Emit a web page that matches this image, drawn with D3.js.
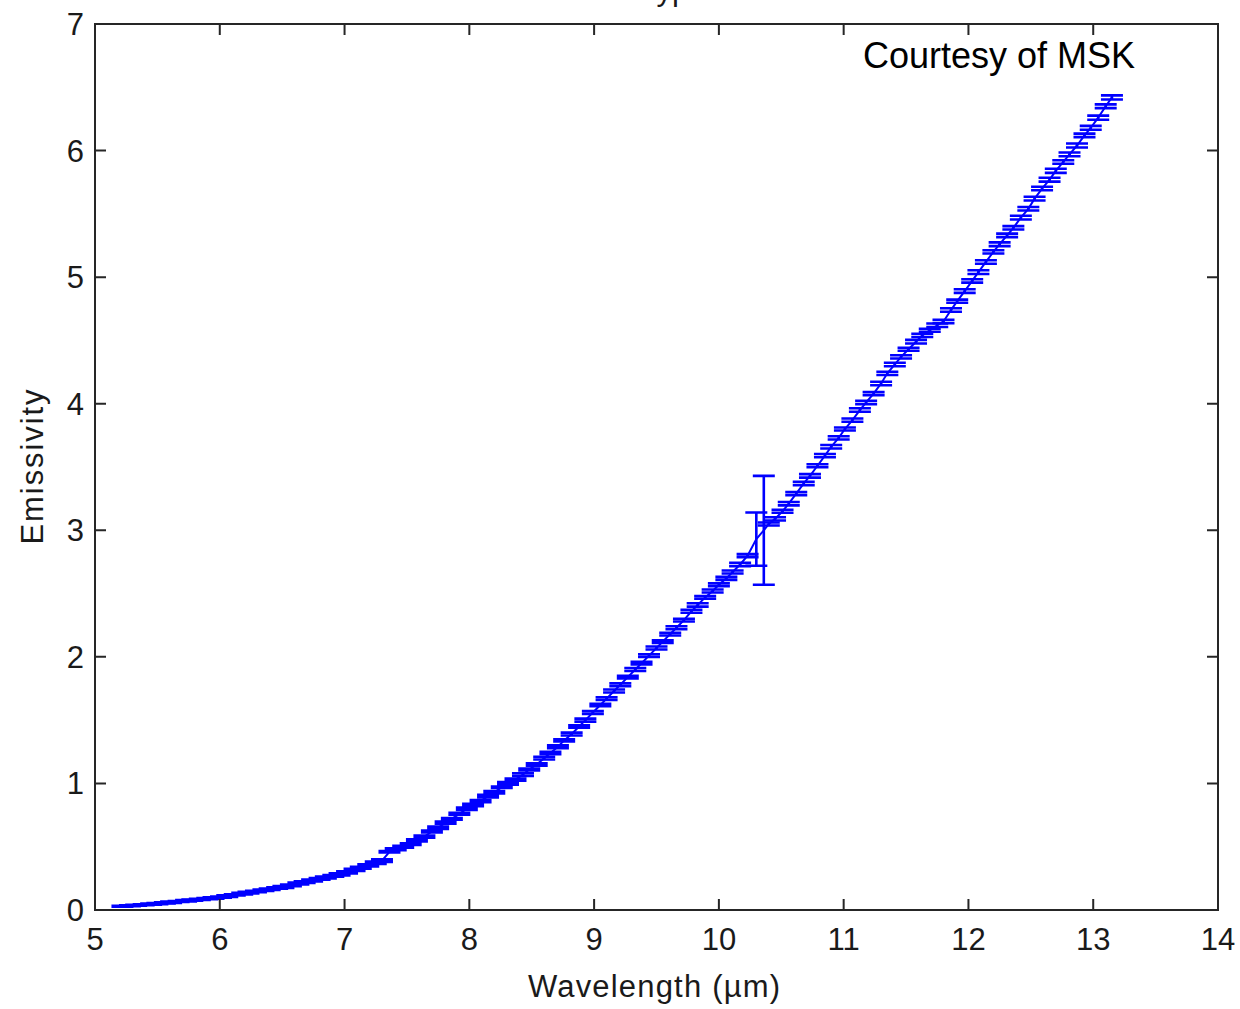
<!DOCTYPE html>
<meta charset="utf-8">
<style>
body { margin: 0; background: #fff; }
text { font-family: "Liberation Sans", Arial, sans-serif; fill: #1a1a1a; }
.frame { fill: none; stroke: #262626; stroke-width: 2; }
.tick { stroke: #262626; stroke-width: 2; }
.bar { stroke: #0000ff; stroke-width: 2.6; fill: none; }
.trace { stroke: #0000ff; stroke-width: 2; fill: none; }
</style>
<body>
<script src="https://cdn.jsdelivr.net/npm/d3@7"></script>
<script>

var width = 1240,
    height = 1009;

// wavelength (um) of each measurement
var wavelength = [
  5.22, 5.28, 5.33, 5.39, 5.45, 5.50, 5.56, 5.61, 5.67, 5.73,
  5.78, 5.84, 5.90, 5.95, 6.01, 6.06, 6.12, 6.18, 6.23, 6.29,
  6.35, 6.40, 6.46, 6.51, 6.57, 6.63, 6.68, 6.74, 6.80, 6.85,
  6.91, 6.96, 7.02, 7.08, 7.13, 7.19, 7.25, 7.30, 7.36, 7.41,
  7.47, 7.53, 7.58, 7.64, 7.70, 7.75, 7.81, 7.86, 7.92, 7.98,
  8.03, 8.09, 8.15, 8.20, 8.26, 8.31, 8.37, 8.43, 8.48, 8.54,
  8.60, 8.65, 8.71, 8.76, 8.82, 8.88, 8.93, 8.99, 9.05, 9.10,
  9.16, 9.21, 9.27, 9.33, 9.38, 9.44, 9.50, 9.55, 9.61, 9.66,
  9.72, 9.78, 9.83, 9.89, 9.95, 10.00, 10.06, 10.11, 10.17, 10.23,
  10.30, 10.36, 10.40, 10.45, 10.51, 10.56, 10.62, 10.68, 10.73, 10.79,
  10.85, 10.90, 10.96, 11.01, 11.07, 11.13, 11.18, 11.24, 11.30, 11.35,
  11.41, 11.46, 11.52, 11.58, 11.63, 11.69, 11.75, 11.80, 11.86, 11.91,
  11.97, 12.03, 12.08, 12.14, 12.20, 12.25, 12.31, 12.36, 12.42, 12.48,
  12.53, 12.59, 12.65, 12.70, 12.76, 12.81, 12.87, 12.93, 12.98, 13.04,
  13.10, 13.15];

// emissivity
var emissivity = [
  0.030, 0.034, 0.038, 0.042, 0.046, 0.050, 0.056, 0.061, 0.067, 0.073,
  0.078, 0.084, 0.090, 0.095, 0.102, 0.110, 0.119, 0.129, 0.137, 0.146,
  0.156, 0.164, 0.174, 0.182, 0.195, 0.209, 0.220, 0.233, 0.246, 0.257,
  0.270, 0.281, 0.297, 0.317, 0.334, 0.353, 0.373, 0.390, 0.460, 0.480,
  0.50, 0.52, 0.55, 0.58, 0.62, 0.65, 0.69, 0.72, 0.76, 0.80,
  0.83, 0.86, 0.90, 0.93, 0.97, 1.00, 1.03, 1.07, 1.11, 1.15,
  1.20, 1.24, 1.29, 1.34, 1.39, 1.45, 1.50, 1.56, 1.62, 1.67,
  1.73, 1.78, 1.84, 1.90, 1.95, 2.01, 2.07, 2.12, 2.18, 2.23,
  2.29, 2.36, 2.41, 2.47, 2.52, 2.57, 2.62, 2.67, 2.73, 2.80,
  2.93, 3.00, 3.05, 3.09, 3.15, 3.21, 3.29, 3.37, 3.43, 3.51,
  3.59, 3.66, 3.73, 3.80, 3.87, 3.95, 4.01, 4.08, 4.16, 4.24,
  4.31, 4.37, 4.43, 4.49, 4.54, 4.58, 4.62, 4.65, 4.74, 4.81,
  4.89, 4.97, 5.04, 5.12, 5.20, 5.26, 5.33, 5.39, 5.47, 5.54,
  5.62, 5.70, 5.77, 5.84, 5.91, 5.97, 6.04, 6.12, 6.18, 6.26,
  6.35, 6.42];

// +/- uncertainty of each point
var uncertainty = [
  0.004, 0.004, 0.004, 0.004, 0.005, 0.004, 0.005, 0.005, 0.004, 0.005,
  0.005, 0.005, 0.004, 0.005, 0.005, 0.006, 0.005, 0.006, 0.006, 0.005,
  0.006, 0.006, 0.006, 0.007, 0.006, 0.007, 0.006, 0.007, 0.007, 0.008,
  0.007, 0.008, 0.008, 0.009, 0.008, 0.009, 0.009, 0.010, 0.006, 0.007,
  0.008, 0.007, 0.008, 0.009, 0.008, 0.009, 0.008, 0.006, 0.008, 0.009,
  0.009, 0.008, 0.010, 0.009, 0.006, 0.010, 0.009, 0.011, 0.008, 0.010,
  0.011, 0.010, 0.011, 0.009, 0.011, 0.010, 0.012, 0.011, 0.010, 0.011,
  0.012, 0.011, 0.010, 0.012, 0.010, 0.011, 0.012, 0.010, 0.011, 0.012,
  0.011, 0.012, 0.013, 0.011, 0.012, 0.011, 0.012, 0.012, 0.013, 0.012,
  0.21, 0.43, 0.012, 0.013, 0.012, 0.013, 0.012, 0.013, 0.014, 0.012,
  0.013, 0.014, 0.013, 0.012, 0.013, 0.014, 0.013, 0.012, 0.014, 0.013,
  0.014, 0.013, 0.012, 0.014, 0.013, 0.012, 0.014, 0.013, 0.014, 0.012,
  0.014, 0.013, 0.015, 0.014, 0.013, 0.015, 0.014, 0.013, 0.015, 0.014,
  0.015, 0.014, 0.015, 0.016, 0.014, 0.015, 0.016, 0.014, 0.015, 0.016,
  0.015, 0.016];

var xTicks = [5, 6, 7, 8, 9, 10, 11, 12, 13, 14];
var yTicks = [0, 1, 2, 3, 4, 5, 6, 7];

var data = wavelength.map(function(w, i) {
  return { x: w, y: emissivity[i], e: uncertainty[i] };
});

var svg = d3.select("body").append("svg")
    .attr("width", width)
    .attr("height", height);

var plotLeft = 95, plotRight = 1218, plotTop = 24, plotBottom = 910;

var x = d3.scaleLinear().domain([5, 14]).range([plotLeft, plotRight]);
var y = d3.scaleLinear().domain([0, 7]).range([plotBottom, plotTop]);

// clipped title, only the descenders show at the top edge
svg.append("text")
    .attr("x", 648)
    .attr("y", 0)
    .style("font-size", "31px")
    .text("type");

// data line
svg.append("path")
    .datum(data)
    .attr("class", "trace")
    .attr("d", d3.line().x(function(d) { return x(d.x); }).y(function(d) { return y(d.y); }));

// error bars
var cap = 11;
var bars = svg.append("g").selectAll("g")
    .data(data)
    .enter()
    .append("g");

bars.append("path")
    .attr("class", "bar")
    .attr("d", function(d) {
      var cx = x(d.x), y0 = y(d.y - d.e), y1 = y(d.y + d.e);
      return "M" + cx + "," + y0 + "V" + y1 +
             "M" + (cx - cap) + "," + y1 + "H" + (cx + cap) +
             "M" + (cx - cap) + "," + y0 + "H" + (cx + cap);
    });

// frame
svg.append("rect")
    .attr("class", "frame")
    .attr("x", plotLeft)
    .attr("y", plotTop)
    .attr("width", plotRight - plotLeft)
    .attr("height", plotBottom - plotTop);

// inward ticks on all four sides
var tl = 11;
svg.append("g").selectAll("path")
    .data(xTicks.slice(1, -1))
    .enter()
    .append("path")
    .attr("class", "tick")
    .attr("d", function(d) {
      return "M" + x(d) + "," + plotBottom + "v" + (-tl) + "M" + x(d) + "," + plotTop + "v" + tl;
    });

svg.append("g").selectAll("path")
    .data(yTicks.slice(1, -1))
    .enter()
    .append("path")
    .attr("class", "tick")
    .attr("d", function(d) {
      return "M" + plotLeft + "," + y(d) + "h" + tl + "M" + plotRight + "," + y(d) + "h" + (-tl);
    });

// tick labels
svg.append("g").selectAll("text")
    .data(xTicks)
    .enter()
    .append("text")
    .attr("x", function(d) { return x(d); })
    .attr("y", 950)
    .attr("text-anchor", "middle")
    .style("font-size", "31px")
    .text(function(d) { return d; });

svg.append("g").selectAll("text")
    .data(yTicks)
    .enter()
    .append("text")
    .attr("x", 84)
    .attr("y", function(d) { return y(d) + 11; })
    .attr("text-anchor", "end")
    .style("font-size", "31px")
    .text(function(d) { return d; });

// axis labels
svg.append("text")
    .attr("x", 654)
    .attr("y", 997)
    .attr("text-anchor", "middle")
    .attr("textLength", 252)
    .attr("lengthAdjust", "spacing")
    .style("font-size", "31px")
    .text("Wavelength (\u00b5m)");

svg.append("text")
    .attr("transform", "translate(43,467) rotate(-90)")
    .attr("text-anchor", "middle")
    .attr("textLength", 155)
    .attr("lengthAdjust", "spacing")
    .style("font-size", "31px")
    .text("Emissivity");

svg.append("text")
    .attr("x", 863)
    .attr("y", 68)
    .style("font-size", "36px")
    .style("fill", "#000")
    .text("Courtesy of MSK");

</script>
